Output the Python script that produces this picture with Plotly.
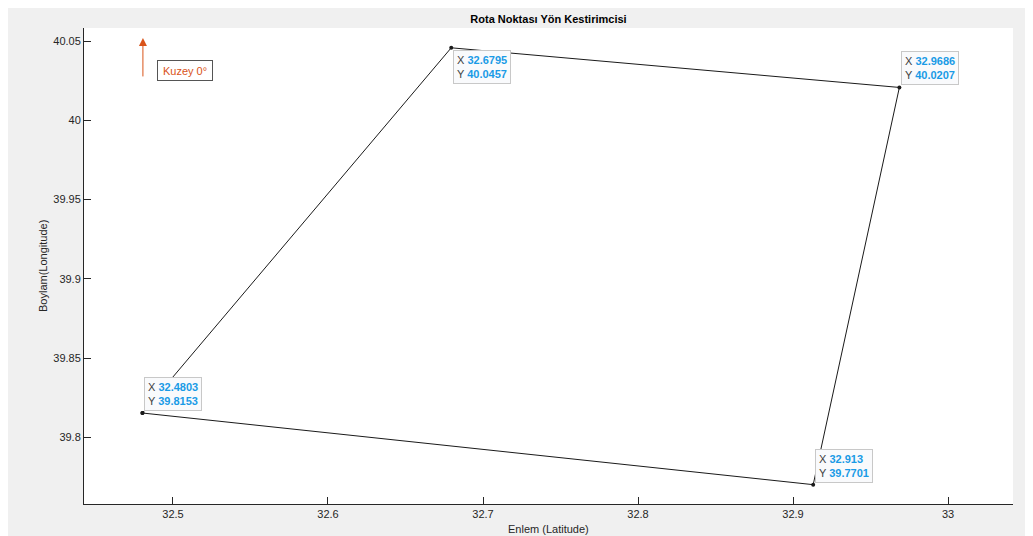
import plotly.graph_objects as go

# Route points (latitude = x, longitude = y), closed polygon
enlem = [32.4803, 32.6795, 32.9686, 32.913, 32.4803]
boylam = [39.8153, 40.0457, 40.0207, 39.7701, 39.8153]

tip_x = [32.6795, 32.9686, 32.4803, 32.913]
tip_y = [40.0457, 40.0207, 39.8153, 39.7701]
tip_anchor = ["top", "bottom", "bottom", "bottom"]

x_ticks = [32.5, 32.6, 32.7, 32.8, 32.9, 33]
x_ticklabels = ["32.5", "32.6", "32.7", "32.8", "32.9", "33"]
y_ticks = [39.8, 39.85, 39.9, 39.95, 40.0, 40.05]
y_ticklabels = ["39.8", "39.85", "39.9", "39.95", "40", "40.05"]

x_range = [32.4426, 33.0419]
y_range = [39.7579, 40.0582]

north_x = 32.4806
north_tail_y = 40.0267
north_head_y = 40.0519
north_label_x = 32.5077
north_label_y = 40.0314

# page body has an 8px margin; figure sized to fill the rest of the window
W, H = 1025, 528
ML, MR, MT, MB = 76, 20, 20, 32
PW, PH = W - ML - MR, H - MT - MB

AX = "#262626"
ORANGE = "#d95319"
BLUE = "#1a9be6"
FONT = "Liberation Sans, Arial, sans-serif"

fig = go.Figure()
fig.add_trace(go.Scatter(
    x=enlem, y=boylam, mode="lines+markers",
    line=dict(color="#1a1a1a", width=1),
    marker=dict(color="#1a1a1a", size=4),
    hoverinfo="skip", showlegend=False,
))

for x, y, anc in zip(tip_x, tip_y, tip_anchor):
    txt = (f"X <b><span style='color:{BLUE}'>{x:g}</span></b><br>"
           f"Y <b><span style='color:{BLUE}'>{y:g}</span></b>")
    fig.add_annotation(
        x=x, y=y, xref="x", yref="y", text=txt, showarrow=False,
        xanchor="left", yanchor=anc, align="left",
        xshift=2, yshift=(-2 if anc == "top" else 2),
        font=dict(family=FONT, size=11, color="#404040"),
        bgcolor="#f9fafc", bordercolor="#c8c8c8", borderwidth=1, borderpad=3,
    )

# north arrow
fig.add_annotation(
    x=north_x, y=north_head_y, ax=north_x, ay=north_tail_y,
    xref="x", yref="y", axref="x", ayref="y",
    text="", showarrow=True, arrowhead=2, arrowsize=1.6, arrowwidth=1,
    arrowcolor=ORANGE,
)
fig.add_annotation(
    x=north_label_x, y=north_label_y, xref="x", yref="y",
    text="Kuzey 0°", showarrow=False, width=48, height=13,
    font=dict(family=FONT, size=11, color=ORANGE),
    bgcolor="white", bordercolor="#555555", borderwidth=1, borderpad=3,
)

# axis titles placed as annotations for exact positioning
fig.add_annotation(
    x=0.5, y=0, xref="paper", yref="paper", text="Enlem (Latitude)",
    showarrow=False, xanchor="center", yanchor="middle", yshift=-25,
    font=dict(family=FONT, size=11, color=AX),
)
fig.add_annotation(
    x=0, y=0.5, xref="paper", yref="paper", text="Boylam(Longitude)",
    showarrow=False, xanchor="center", yanchor="middle", xshift=-41,
    textangle=-90, font=dict(family=FONT, size=11, color=AX),
)

axis_common = dict(
    showgrid=False, zeroline=False, showline=True, linecolor=AX, linewidth=1,
    ticks="inside", ticklen=7, tickcolor=AX, tickwidth=1, mirror=False,
    tickfont=dict(family=FONT, size=11, color=AX), automargin=False,
)

fig.update_layout(
    width=W, height=H,
    margin=dict(l=ML, r=MR, t=MT, b=MB),
    paper_bgcolor="#f0f0f0", plot_bgcolor="white",
    title=dict(text="<b>Rota Noktası Yön Kestirimcisi</b>",
               x=(ML + PW / 2) / W, xanchor="center",
               y=1 - 11 / H, yanchor="middle",
               font=dict(family=FONT, size=11, color="#000000")),
    xaxis=dict(range=x_range, tickvals=x_ticks, ticktext=x_ticklabels,
               **axis_common),
    yaxis=dict(range=y_range, tickvals=y_ticks, ticktext=y_ticklabels,
               **axis_common),
)

fig.write_html("out.html")
